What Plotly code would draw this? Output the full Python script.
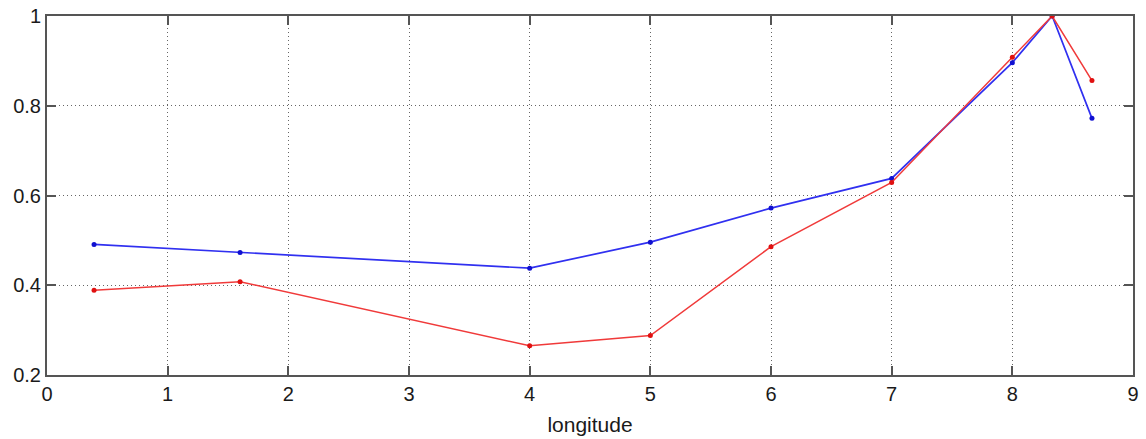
import plotly.graph_objects as go

x_vals = [0.39, 1.6, 4.0, 5.0, 6.0, 7.0, 8.0, 8.33, 8.66]
blue_vals = [0.491, 0.473, 0.438, 0.496, 0.572, 0.638, 0.896, 1.0, 0.772]
red_vals = [0.389, 0.408, 0.265, 0.288, 0.486, 0.629, 0.908, 1.0, 0.856]
x_ticks = [0, 1, 2, 3, 4, 5, 6, 7, 8, 9]
y_ticks = [0.2, 0.4, 0.6, 0.8, 1.0]
y_tick_text = ["0.2", "0.4", "0.6", "0.8", "1"]

fig = go.Figure()
fig.add_trace(go.Scatter(x=x_vals, y=blue_vals, mode="lines+markers",
                         line=dict(color="#3030f0", width=1.7),
                         marker=dict(color="#1010d0", size=5), showlegend=False))
fig.add_trace(go.Scatter(x=x_vals, y=red_vals, mode="lines+markers",
                         line=dict(color="#f03a3a", width=1.5),
                         marker=dict(color="#e01010", size=5), showlegend=False))

axis_common = dict(showline=True, linecolor="#555555", linewidth=2, mirror="ticks",
                   ticks="inside", ticklen=9, tickwidth=1.5, tickcolor="#555555",
                   showgrid=True, gridcolor="#666666", griddash="1px,3px", gridwidth=1,
                   zeroline=False, automargin=False,
                   tickfont=dict(family="Liberation Sans", size=20, color="#1a1a1a"))

fig.update_xaxes(range=[0, 9], tickvals=x_ticks, title=dict(text="longitude", standoff=13,
                 font=dict(family="Liberation Sans", size=21, color="#1a1a1a")), **axis_common)
fig.update_yaxes(range=[0.2, 1.0], tickvals=y_ticks, ticktext=y_tick_text, **axis_common)

fig.update_layout(width=1146, height=439, margin=dict(l=47, r=13, t=16, b=64),
                  plot_bgcolor="white", paper_bgcolor="white")
fig.write_html("out.html")
